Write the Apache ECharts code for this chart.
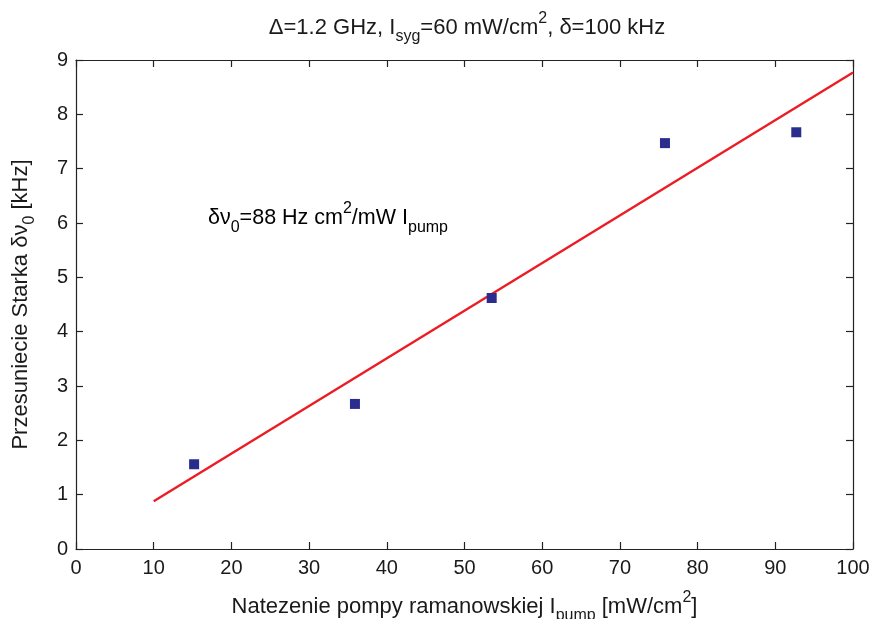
<!DOCTYPE html>
<html>
<head>
<meta charset="utf-8">
<script src="https://cdn.jsdelivr.net/npm/echarts@6/dist/echarts.min.js"></script>
<style>html,body{margin:0;padding:0;background:#fff}#c{width:873px;height:619px}</style>
</head>
<body>
<div id="c"></div>
<script>
var pumpIntensity = [15.2, 35.9, 53.5, 75.8, 92.7];
var starkShift = [1.56, 2.67, 4.62, 7.47, 7.67];
var fitX = [10, 100];
var fitY = [0.88, 8.77];
var xTicks = [0, 10, 20, 30, 40, 50, 60, 70, 80, 90, 100];
var yTicks = [0, 1, 2, 3, 4, 5, 6, 7, 8, 9];

var FONT = 'Liberation Sans, Arial, sans-serif';
var TXT = '#1a1a1a';
function mkRich(fs, sfs, drop) {
  var lh = Math.round(fs * 1.2), slh = Math.round(sfs * 1.2);
  return {
    n: {fontSize: fs, fontFamily: FONT, color: TXT, fontWeight: 'normal', verticalAlign: 'top', lineHeight: lh, padding: [6, 0, 0, 0]},
    sub: {fontSize: sfs, fontFamily: FONT, color: TXT, fontWeight: 'normal', verticalAlign: 'top', lineHeight: slh, padding: [6 + drop, 0, 0, 0]},
    sup: {fontSize: sfs, fontFamily: FONT, color: TXT, fontWeight: 'normal', verticalAlign: 'top', lineHeight: slh, padding: [0, 0, 0, 0]}
  };
}
var richTitle = mkRich(22, 16, 12);
var richName = mkRich(22, 16, 12);
var richNote = mkRich(21.5, 16, 13);

var chart = echarts.init(document.getElementById('c'), null, {renderer: 'canvas'});
var axisCommon = {
  min: 0,
  axisLine: {show: true, onZero: false, lineStyle: {color: '#222', width: 1.2}},
  axisTick: {show: true, inside: true, length: 7, lineStyle: {color: '#222', width: 1.2}},
  splitLine: {show: false}
};
chart.setOption({
  animation: false,
  backgroundColor: '#fff',
  grid: {left: 76, top: 60, right: 20, bottom: 70, show: false, outerBoundsMode: 'none', containLabel: false},
  title: {
    text: '{n|Δ=1.2 GHz, I}{sub|syg}{n|=60 mW/cm}{sup|2}{n|, δ=100 kHz}',
    left: 467, top: 11, textAlign: 'center', padding: 0,
    textStyle: {fontWeight: 'normal', rich: richTitle}
  },
  xAxis: [
    Object.assign({}, axisCommon, {
      type: 'value', max: 100, interval: 10, position: 'bottom',
      axisLabel: {fontSize: 20, fontFamily: FONT, color: TXT, margin: 9,
        formatter: function (v) { return xTicks.indexOf(v) >= 0 ? String(v) : ''; }},
      name: '{n|Natezenie pompy ramanowskiej I}{sub|pump}{n| [mW/cm}{sup|2}{n|]}',
      nameLocation: 'middle', nameGap: 41,
      nameTextStyle: {rich: richName}
    }),
    Object.assign({}, axisCommon, {
      type: 'value', max: 100, interval: 10, position: 'top',
      axisLabel: {show: false}
    })
  ],
  yAxis: [
    Object.assign({}, axisCommon, {
      type: 'value', max: 9, interval: 1, position: 'left',
      axisLabel: {fontSize: 20, fontFamily: FONT, color: TXT, margin: 8,
        formatter: function (v) { return yTicks.indexOf(v) >= 0 ? String(v) : ''; }},
      name: '{n|Przesuniecie Starka δν}{sub|0}{n| [kHz]}',
      nameLocation: 'middle', nameGap: 46, nameRotate: 90,
      nameTextStyle: {rich: richName}
    }),
    Object.assign({}, axisCommon, {
      type: 'value', max: 9, interval: 1, position: 'right',
      axisLabel: {show: false}
    })
  ],
  graphic: [{
    type: 'text', left: 208, top: 201,
    style: {
      text: '{n|δν}{sub|0}{n|=88 Hz cm}{sup|2}{n|/mW I}{sub|pump}',
      rich: richNote
    }
  }],
  series: [
    {
      type: 'line', xAxisIndex: 0, yAxisIndex: 0,
      data: fitX.map(function (x, i) { return [x, fitY[i]]; }),
      symbol: 'none', lineStyle: {color: '#ec1c24', width: 2.4}, z: 2
    },
    {
      type: 'scatter', xAxisIndex: 0, yAxisIndex: 0,
      data: pumpIntensity.map(function (x, i) { return [x, starkShift[i]]; }),
      symbol: 'rect', symbolSize: 10,
      itemStyle: {color: '#2b2d8e', opacity: 1}, z: 3
    }
  ]
});
</script>
</body>
</html>
